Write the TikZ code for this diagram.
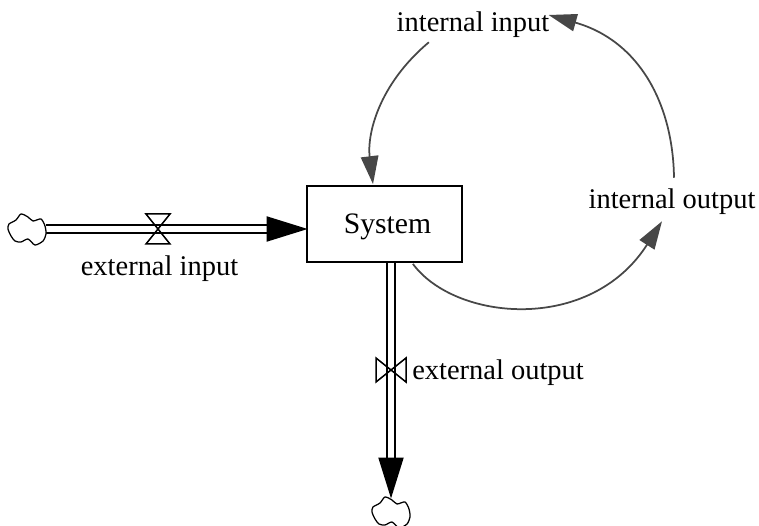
\documentclass[tikz,border=0pt]{standalone}
\usepackage{fontspec}
\setmainfont{Liberation Serif}
\usetikzlibrary{arrows.meta}
\tikzset{
   label/.style={inner sep=0pt,font=\fontsize{16.2}{18}\selectfont},
   stock/.style={draw,line width=.035cm,minimum width=3.1cm,minimum height=1.52cm,inner sep=0pt,text height=.45cm,text depth=.05cm,font=\fontsize{16.9}{18}\selectfont},
   pipe/.style={double,line width=.04cm,double distance=.115cm,shorten >=-.03cm,-{Triangle[length=.82cm,width=.5cm]}},
   link/.style={color=black!72,line width=.035cm,-{Triangle[length=.56cm,width=.35cm]}},
   valve/.pic={\draw[line width=.03cm] (-12,-15) -- (12,-15) -- (-12,15) -- (12,15) -- cycle;},
   cloudlet/.pic={\draw[line width=.025cm,fill=white] plot[smooth cycle,tension=.45] coordinates {(-18,-5) (-11,-9) (-6,-15) (1,-12) (6,-8) (14,-10) (18,-3) (19,5) (16,12) (8,16) (1,10) (-6,13) (-12,12) (-16,7) (-19,0)};}
}
\begin{document}
\begin{tikzpicture}[x=.02cm,y=-.02cm]
   \useasboundingbox (0,0) rectangle (759,526);

   \node[stock] (system) at (384.5,224) {\hspace{.12cm}System};
   \node[label] (extinput) at (159.5,269) {external input};
   \node[label] (extoutput) at (498,373) {external output};
   \node[label] (intinput) at (473,25) {internal input};
   \node[label] (intoutput) at (672,202) {internal output};

   \coordinate (sourcecloud) at (46,229);
   \coordinate (sinkcloud) at (391,497);

   \draw[pipe] (sourcecloud) -- (sourcecloud -| system.west);
   \draw[pipe] (system.south -| sinkcloud) -- (sinkcloud);

   \pic at (27,229) {cloudlet};
   \pic at (391,512) {cloudlet};
   \pic at (158,229) {valve};
   \pic[rotate=90] at (391,370) {valve};

   \draw[link] ([shift={(32.5,4)}]intinput.south west) .. controls (378,85) and (367,135) .. ([shift={(-11.5,-1)}]system.north);
   \draw[link] ([shift={(2,-11)}]intoutput.north) .. controls (673,105) and (640,41) .. ([shift={(-1,-10)}]intinput.east);
   \draw[link] ([shift={(-50,1)}]system.south east) .. controls (455,321) and (590,334) .. ([shift={(-10,6)}]intoutput.south);
\end{tikzpicture}
\end{document}
